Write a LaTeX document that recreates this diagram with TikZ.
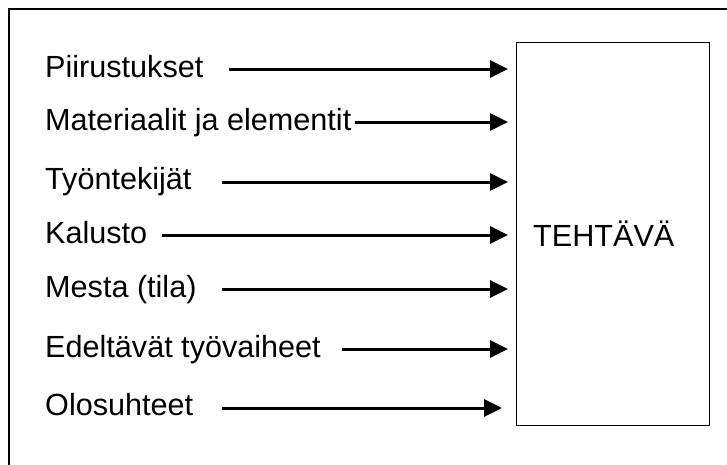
\documentclass[tikz,border=0pt]{standalone}
\usepackage{fontspec}
\setmainfont{Liberation Sans}
\usetikzlibrary{arrows.meta}
\begin{document}
\begin{tikzpicture}[x=1pt,y=-1pt,
  lbl/.style={anchor=base west,inner sep=0pt,font=\fontsize{30.6}{36}\selectfont},
  arr/.style={line width=3pt,-{Triangle[length=18pt,width=17pt]}},
  taskbox/.style={draw=black,line width=1pt,inner sep=0pt,minimum width=193pt,minimum height=383pt}]
\useasboundingbox (0,0) rectangle (727,464);
\clip (0,0) rectangle (727,464);
\draw[line width=2pt] (9,9) rectangle (760,500);
\node[taskbox] (box) at (612.5,233.5) {};
\node[lbl] (task) at (533,246.5) {TEHTÄVÄ};
\node[lbl] (t1) at (45,77) {Piirustukset};
\node[lbl] (t2) at (45,130) {Materiaalit ja elementit};
\node[lbl] (t3) at (45,189) {Työntekijät};
\node[lbl] (t4) at (45,243) {Kalusto};
\node[lbl] (t5) at (45,297) {Mesta (tila)};
\node[lbl] (t6) at (45,357) {Edeltävät työvaiheet};
\node[lbl] (t7) at (45,415) {Olosuhteet};
\coordinate (s1) at (229,69);  \coordinate (e1) at (508,69);
\coordinate (s2) at (355,122); \coordinate (e2) at (508,122);
\coordinate (s3) at (222,182); \coordinate (e3) at (508,182);
\coordinate (s4) at (162,235); \coordinate (e4) at (508,235);
\coordinate (s5) at (222,289); \coordinate (e5) at (508,289);
\coordinate (s6) at (342,349); \coordinate (e6) at (508,349);
\coordinate (s7) at (222,408); \coordinate (e7) at (502,408);
\foreach \i in {1,...,7} {\draw[arr] (s\i) -- (e\i);}
\end{tikzpicture}
\end{document}
